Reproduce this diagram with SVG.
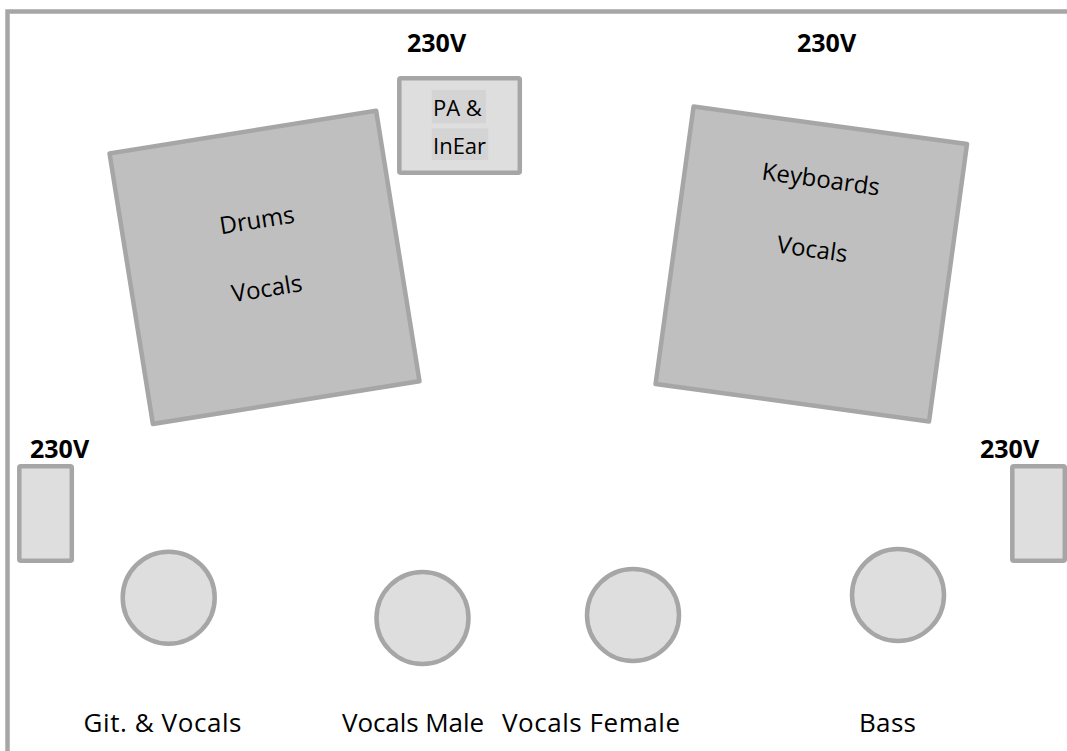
<svg xmlns="http://www.w3.org/2000/svg" width="1067" height="751" viewBox="0 0 1067 751">
<style>
.brd{fill:none;stroke:#a6a6a6;stroke-width:4.5}
.big{fill:#bfbfbf;stroke:#a6a6a6;stroke-width:4.5;stroke-linejoin:round}
.sm{fill:#dedede;stroke:#a6a6a6;stroke-width:4.5;stroke-linejoin:round}
.hl{fill:#d4d4d4}
.lbl{font-family:"Open Sans","Liberation Sans",sans-serif;font-size:24px;fill:#000}
.bot{font-family:"Open Sans","Liberation Sans",sans-serif;font-size:26px;fill:#000;text-anchor:middle}
.pa{font-family:"Open Sans","Liberation Sans",sans-serif;font-size:22px;fill:#000}
.v{font-family:"Open Sans","Liberation Sans",sans-serif;font-size:25px;font-weight:bold;fill:#000}
.c{text-anchor:middle}
</style>
<rect width="1067" height="751" fill="#ffffff"/>
<path class="brd" d="M7.5 751 V11.5 H1067"/>
<g id="connectors"/>
<g id="drums" transform="translate(264.5 267.3) rotate(-9.1)">
<rect class="big" x="-135" y="-137" width="270" height="274"/>
<text class="lbl c" x="0" y="-39.5">Drums</text>
<text class="lbl c" x="-1" y="29.5">Vocals</text>
</g>
<g id="keyboards" transform="translate(811.3 264) rotate(7.8)">
<rect class="big" x="-138" y="-140" width="276" height="280"/>
<text class="lbl c" x="-2" y="-77">Keyboards</text>
<text class="lbl c" x="-1" y="-6.5">Vocals</text>
</g>
<g id="pa">
<rect class="sm" x="399.3" y="78.3" width="120.5" height="94.5" rx="1.5"/>
<rect class="hl" x="431.7" y="90" width="54.3" height="33.3"/>
<rect class="hl" x="431.7" y="128.3" width="56.6" height="31.7"/>
<text class="pa" x="433" y="116">PA &amp;</text>
<text class="pa" x="433" y="154">InEar</text>
</g>
<g id="power-top-left"><text class="v" x="407" y="52">230V</text></g>
<g id="power-top-right"><text class="v" x="797" y="52">230V</text></g>
<g id="power-left">
<text class="v" x="30" y="458">230V</text>
<rect class="sm" x="19.3" y="466.3" width="52.5" height="94.5" rx="1.5"/>
</g>
<g id="power-right">
<text class="v" x="980" y="458">230V</text>
<rect class="sm" x="1012.3" y="466.3" width="52.5" height="94.5" rx="1.5"/>
</g>
<g id="git"><circle class="sm" cx="168.7" cy="597.7" r="46"/><text class="bot" x="162.5" y="732" textLength="158">Git. &amp; Vocals</text></g>
<g id="vocals-male"><circle class="sm" cx="422.5" cy="618" r="46"/><text class="bot" x="413" y="732" textLength="142">Vocals Male</text></g>
<g id="vocals-female"><circle class="sm" cx="633" cy="615" r="46"/><text class="bot" x="591" y="732" textLength="178">Vocals Female</text></g>
<g id="bass"><circle class="sm" cx="898" cy="595" r="46"/><text class="bot" x="887.5" y="732" textLength="57">Bass</text></g>
</svg>
